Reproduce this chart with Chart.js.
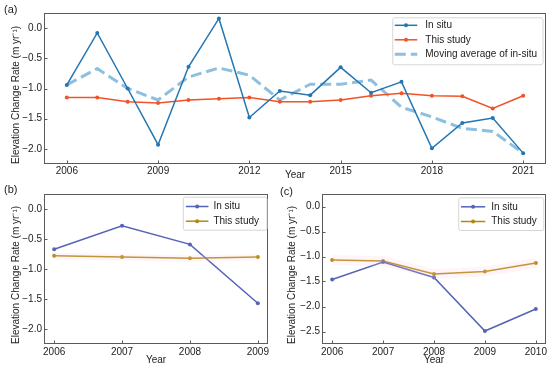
<!DOCTYPE html>
<html><head><meta charset="utf-8">
<script src="https://cdn.jsdelivr.net/npm/chart.js@4/dist/chart.umd.min.js"></script>
<style>
html,body{margin:0;padding:0;background:#fff;width:550px;height:369px;overflow:hidden;position:relative}
canvas{position:absolute}
</style></head><body>
<canvas id="ca" width="550" height="185" style="left:0;top:0"></canvas>
<canvas id="cb" width="276" height="189" style="left:0;top:180px"></canvas>
<canvas id="cc" width="274" height="189" style="left:276px;top:180px"></canvas>
<script>
// ---- Data ----
const yearsA = [2006,2007,2008,2009,2010,2011,2012,2013,2014,2015,2016,2017,2018,2019,2020,2021];
const inSituA = [-0.94,-0.08,-1.00,-1.93,-0.64,0.16,-1.48,-1.04,-1.11,-0.65,-1.07,-0.89,-1.99,-1.57,-1.49,-2.07];
const studyA = [-1.15,-1.15,-1.22,-1.24,-1.19,-1.17,-1.15,-1.22,-1.22,-1.19,-1.12,-1.08,-1.12,-1.13,-1.33,-1.12];
const movingAvgA = [-0.94,-0.67,-1.00,-1.19,-0.81,-0.66,-0.78,-1.19,-0.93,-0.93,-0.86,-1.31,-1.47,-1.66,-1.71,-2.07];
const xTicksA = [2006,2009,2012,2015,2018,2021];

const yearsB = [2006,2007,2008,2009];
const inSituB = [-0.67,-0.28,-0.59,-1.57];
const studyB = [-0.78,-0.80,-0.82,-0.80];
const studyLowB = [-0.84,-0.86,-0.88,-0.86];
const studyHighB = [-0.73,-0.75,-0.77,-0.75];

const yearsC = [2006,2007,2008,2009,2010];
const inSituC = [-1.46,-1.11,-1.42,-2.49,-2.05];
const studyC = [-1.07,-1.09,-1.35,-1.30,-1.13];
const studyLowC = [-1.17,-1.19,-1.45,-1.40,-1.23];
const studyHighC = [-0.97,-0.99,-1.25,-1.20,-1.03];

const yTicksAB = [0.0,-0.5,-1.0,-1.5,-2.0];
const yTicksC = [0.0,-0.5,-1.0,-1.5,-2.0,-2.5];

const FONT = '"Liberation Sans", Arial, Helvetica, sans-serif';
const TXT = '#222';
const FRAME = '#5a5a5a';

const pts = (xs, ys) => xs.map((x,i)=>({x:x, y:ys[i]}));

const framePlugin = {
  id:'frameTicks',
  afterDatasetsDraw(chart, args, opts){
    const ctx = chart.ctx, ca = chart.chartArea;
    ctx.save();
    ctx.strokeStyle = FRAME; ctx.lineWidth = 1;
    ctx.strokeRect(ca.left+0.5, ca.top+0.5, ca.right-ca.left-1, ca.bottom-ca.top-1);
    const xs = chart.scales.x, ys = chart.scales.y;
    ctx.beginPath();
    xs.ticks.forEach(t=>{ const px = Math.round(xs.getPixelForValue(t.value))+0.5; ctx.moveTo(px, ca.bottom); ctx.lineTo(px, ca.bottom-3.5); });
    ys.ticks.forEach(t=>{ const py = Math.round(ys.getPixelForValue(t.value))+0.5; ctx.moveTo(ca.left, py); ctx.lineTo(ca.left+3.5, py); });
    ctx.stroke();
    ctx.restore();
  },
  afterDraw(chart, args, opts){
    const ctx = chart.ctx, ca = chart.chartArea;
    ctx.save();
    // panel letter
    ctx.fillStyle = TXT; ctx.font = '11px ' + FONT; ctx.textBaseline = 'middle'; ctx.textAlign = 'left';
    ctx.fillText(opts.letter, opts.lx, opts.ly);
    // legend
    ctx.font = '10px ' + FONT;
    const items = chart.data.datasets.filter(d=>d.label && !d.noLegend);
    const tw = Math.max(...items.map(d=>ctx.measureText(d.label).width));
    const L = opts.leg;
    const w = L.textOff + tw + L.padR;
    const h = L.firstOff + (items.length-1)*L.rowH + L.lastOff;
    const x = ca.right - L.dx - w, y = ca.top + L.dy;
    ctx.beginPath();
    if (ctx.roundRect) ctx.roundRect(x+0.5, y+0.5, w, h, 2); else ctx.rect(x+0.5,y+0.5,w,h);
    ctx.fillStyle = 'rgba(255,255,255,0.85)'; ctx.fill();
    ctx.strokeStyle = '#d6d6d6'; ctx.lineWidth = 1; ctx.stroke();
    items.forEach((d,i)=>{
      const cy = y + L.firstOff + i*L.rowH;
      ctx.save();
      ctx.strokeStyle = d.borderColor; ctx.lineWidth = d.borderWidth;
      ctx.setLineDash(d.borderDash || []);
      ctx.beginPath(); ctx.moveTo(x+L.lineStart, cy); ctx.lineTo(x+L.lineEnd, cy); ctx.stroke();
      ctx.restore();
      if (d.pointRadius > 0) {
        ctx.beginPath(); ctx.arc(x+(L.lineStart+L.lineEnd)/2, cy, d.pointRadius, 0, Math.PI*2);
        ctx.fillStyle = d.borderColor; ctx.fill();
      }
      ctx.fillStyle = TXT; ctx.textBaseline = 'middle'; ctx.textAlign = 'left';
      ctx.fillText(d.label, x+L.textOff, cy);
    });
    ctx.restore();
  }
};

function lineDS(label, data, color, extra){
  return Object.assign({label, data, borderColor:color, backgroundColor:color, borderWidth:1.5,
    pointRadius:2, pointBorderWidth:0, pointBackgroundColor:color, tension:0, fill:false}, extra||{});
}
function bandDS(data, fill){
  return {label:'', noLegend:true, data, borderWidth:0, borderColor:'rgba(0,0,0,0)', pointRadius:0,
    backgroundColor:'rgba(255,205,220,0.2)', fill:fill, tension:0};
}

function makeChart(id, c){
  const tickFont = {family:FONT, size:10};
  return new Chart(document.getElementById(id), {
    type:'line',
    data:{datasets:c.datasets},
    plugins:[framePlugin],
    options:{
      responsive:false, animation:false, devicePixelRatio:1,
      layout:{padding:{top:c.padTop, right:c.padRight, left:0, bottom:0}},
      plugins:{legend:{display:false}, tooltip:{enabled:false},
        frameTicks:{letter:c.letter, lx:c.lx, ly:c.ly, leg:c.leg}},
      scales:{
        x:{type:'linear', min:c.xmin, max:c.xmax,
          afterBuildTicks:s=>{ s.ticks = c.xTicks.map(v=>({value:v})); },
          afterFit:s=>{ s.height = c.xh; s.paddingLeft = 0; s.paddingRight = 0; },
          grid:{display:false, drawTicks:false}, border:{display:false},
          ticks:{font:tickFont, color:TXT, padding:c.xtickPad, maxRotation:0, autoSkip:false, callback:v=>String(v)},
          title:{display:true, text:'Year', font:tickFont, color:TXT, padding:{top:0, bottom:c.xtPad}}
        },
        y:{type:'linear', min:c.ymin, max:c.ymax,
          afterBuildTicks:s=>{ s.ticks = c.yTicks.map(v=>({value:v})); },
          afterFit:s=>{ s.width = c.yw; s.paddingTop = 0; s.paddingBottom = 0; },
          grid:{display:false, drawTicks:false}, border:{display:false},
          ticks:{font:tickFont, color:TXT, padding:2, autoSkip:false,
            callback:v=>{ const s = Math.abs(v).toFixed(1); return v < -1e-9 ? '\u2212' + s : s; }},
          title:{display:true, align:'start', text:'Elevation Change Rate (m yr\u207B\u00B9)', font:tickFont, color:TXT, padding:{top:c.ytPad, bottom:0}}
        }
      }
    }
  });
}

makeChart('ca', {
  datasets:[
    lineDS('In situ', pts(yearsA, inSituA), '#2376b2'),
    lineDS('This study', pts(yearsA, studyA), '#f0532a'),
    lineDS('Moving average of in-situ', pts(yearsA, movingAvgA), '#8dc0e0', {borderWidth:3, borderDash:[11,5], pointRadius:0})
  ],
  padTop:13, padRight:4, xh:21, yw:44, xtPad:3.5, ytPad:10, xtickPad:1.5,
  xmin:2005.25, xmax:2021.75, ymin:-2.25, ymax:0.25, xTicks:xTicksA, yTicks:yTicksAB,
  letter:'(a)', lx:4, ly:10,
  leg:{dx:3.5, dy:4.3, lineStart:2.5, lineEnd:25, textOff:33, padR:5.5, firstOff:8, rowH:14.5, lastOff:10}
});

makeChart('cb', {
  datasets:[
    bandDS(pts(yearsB, studyLowB), false),
    bandDS(pts(yearsB, studyHighB), '-1'),
    lineDS('In situ', pts(yearsB, inSituB), '#5563b9'),
    lineDS('This study', pts(yearsB, studyB), '#b3880f')
  ],
  padTop:14, padRight:8, xh:25, yw:44, xtPad:3, ytPad:10, xtickPad:2.5,
  xmin:2005.85, xmax:2009.15, ymin:-2.25, ymax:0.25, xTicks:yearsB, yTicks:yTicksAB,
  letter:'(b)', lx:4, ly:10,
  leg:{dx:1.5, dy:2.7, lineStart:3, lineEnd:25.6, textOff:30.6, padR:7.5, firstOff:9.8, rowH:14.7, lastOff:8.5}
});

makeChart('cc', {
  datasets:[
    bandDS(pts(yearsC, studyLowC), false),
    bandDS(pts(yearsC, studyHighC), '-1'),
    lineDS('In situ', pts(yearsC, inSituC), '#5563b9'),
    lineDS('This study', pts(yearsC, studyC), '#b3880f')
  ],
  padTop:14, padRight:4, xh:25, yw:46, xtPad:3, ytPad:10.7, xtickPad:2.5,
  xmin:2005.8, xmax:2010.2, ymin:-2.75, ymax:0.25, xTicks:yearsC, yTicks:yTicksC,
  letter:'(c)', lx:4, ly:12,
  leg:{dx:2.7, dy:3.3, lineStart:2.7, lineEnd:27, textOff:33, padR:6.5, firstOff:9.5, rowH:14.7, lastOff:8.5}
});
</script>
</body></html>
